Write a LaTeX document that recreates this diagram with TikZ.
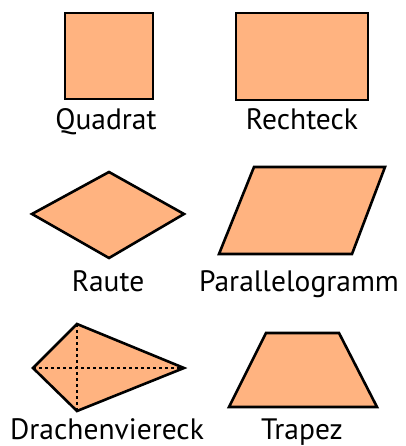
\documentclass[tikz,border=0pt]{standalone}
\usepackage{fontspec}
\setmainfont{PT Sans}
\usepackage{tikz}
\definecolor{flaeche}{RGB}{255,179,128}

\begin{document}
\begin{tikzpicture}[x=1pt,y=-1pt,
    figur/.style={draw=black, fill=flaeche, line width=2.6pt, line join=miter},
    hilfslinie/.style={draw=black, line width=1.2pt, dash pattern=on 3pt off 3pt},
    beschriftung/.style={anchor=base, font=\fontsize{29.5}{32}\selectfont, inner sep=0pt}]
    \useasboundingbox (0,0) rectangle (405,446);

    % --- OBERE REIHE ---
    \draw[figur] (65,13) rectangle (153,99);
    \node[beschriftung] (quadrat) at (106,130) {Quadrat};
    \draw[figur] (236,13) rectangle (368,100);
    \node[beschriftung] (rechteck) at (302,130) {Rechteck};

    % --- MITTLERE REIHE ---
    \draw[figur] (32,214) -- (109,172) -- (184,214) -- (109,258) -- cycle;
    \node[beschriftung] (raute) at (108,291) {Raute};
    \draw[figur] (254,167) -- (385,167) -- (352,254) -- (219,254) -- cycle;
    \node[beschriftung] (parallelogramm) at (299,291) {Parallelogramm};

    % --- UNTERE REIHE ---
    \def\drachen{ (33,368) -- (77,324) -- (184,368) -- (77,411) -- cycle};
    \fill[flaeche] \drachen;
    \draw[hilfslinie] (33,368) -- (184,368);
    \draw[hilfslinie] (77,324) -- (77,411);
    \draw[figur, fill=none] \drachen;
    \node[beschriftung] (drachen) at (107,439) {Drachenviereck};
    \draw[figur] (229,407) -- (266,333) -- (339,333) -- (377,407) -- cycle;
    \node[beschriftung] (trapez) at (302,439) {Trapez};
\end{tikzpicture}
\end{document}
